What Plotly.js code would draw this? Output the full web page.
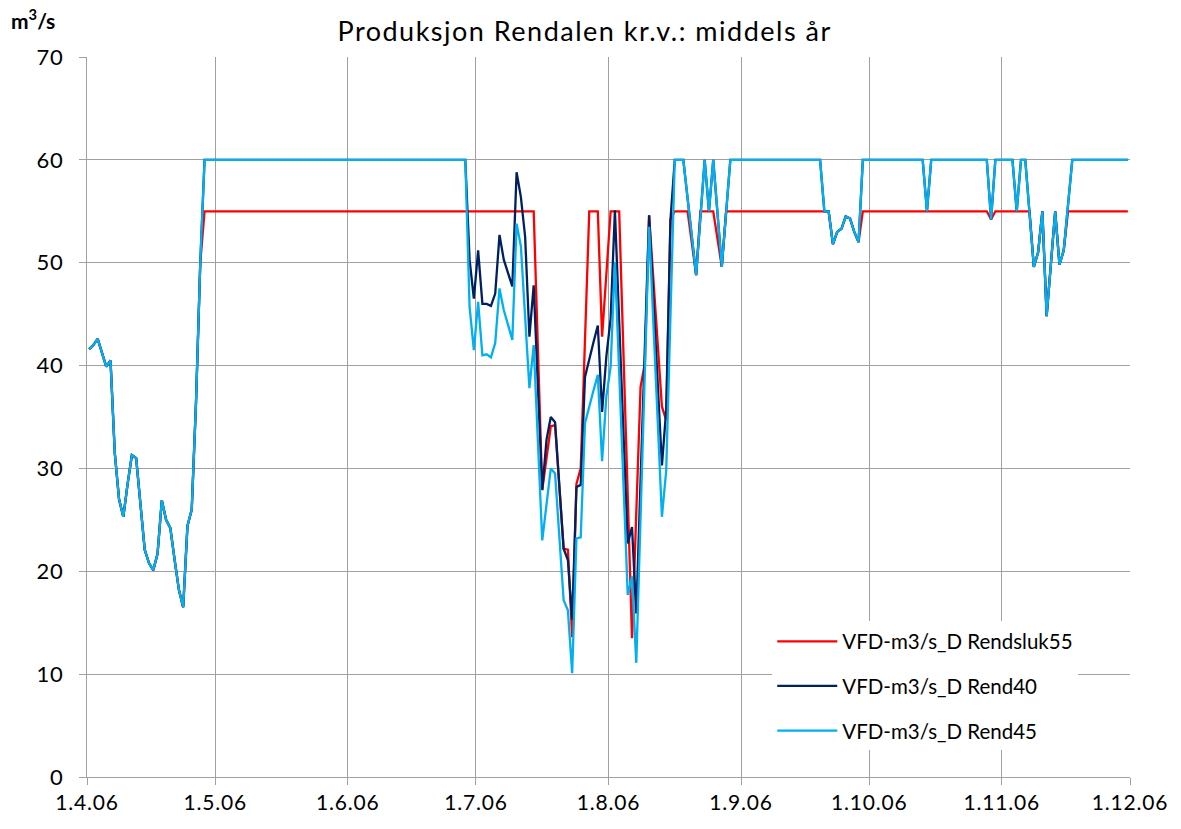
<!DOCTYPE html>
<html>
<head>
<meta charset="utf-8">
<script src="https://cdn.plot.ly/plotly-3.0.1.min.js"></script>
<style>
  body { margin: 0; background: #fff; }
  #chart { width: 1181px; height: 829px; }
  #chart .gtitle { letter-spacing: 1.5px; }
  #chart .xtick text, #chart .ytick text { letter-spacing: 0.8px; }
</style>
</head>
<body>
<div id="chart"></div>
<script>
// Vannføring april (lik for alle tre serier)
var aprDates = ['2006-04-01', '2006-04-02', '2006-04-03', '2006-04-04', '2006-04-05', '2006-04-06', '2006-04-07',
  '2006-04-08', '2006-04-09', '2006-04-10', '2006-04-11', '2006-04-12', '2006-04-13', '2006-04-14', '2006-04-15',
  '2006-04-16', '2006-04-17', '2006-04-18', '2006-04-19', '2006-04-20', '2006-04-21', '2006-04-22', '2006-04-23',
  '2006-04-24', '2006-04-25', '2006-04-26', '2006-04-27']
var aprFlow = [41.6, 42.0, 42.6, 41.2, 39.9, 40.5, 31.5, 27.0, 25.3, 28.5, 31.3, 31.0, 26.9, 22.1, 20.8,
  20.1, 21.7, 26.9, 25.0, 24.2, 21.1, 18.2, 16.5, 24.4, 26.0, 36.4, 50.0]

// Rendsluk55
var rend55Dates = ['2006-04-28', '2006-07-14', '2006-07-16', '2006-07-18', '2006-07-19', '2006-07-21', '2006-07-22',
  '2006-07-23', '2006-07-24', '2006-07-25', '2006-07-27', '2006-07-29', '2006-07-30', '2006-08-01', '2006-08-03',
  '2006-08-06', '2006-08-08', '2006-08-09', '2006-08-10', '2006-08-13', '2006-08-14', '2006-08-15', '2006-08-16',
  '2006-08-19', '2006-08-21', '2006-08-22', '2006-08-25', '2006-08-27', '2006-08-28', '2006-09-21', '2006-09-22',
  '2006-09-23', '2006-09-24', '2006-09-25', '2006-09-26', '2006-09-27', '2006-09-28', '2006-09-29', '2006-10-28',
  '2006-10-29', '2006-10-30', '2006-11-07', '2006-11-08', '2006-11-09', '2006-11-10', '2006-11-11', '2006-11-13',
  '2006-11-14', '2006-11-15', '2006-11-16', '2006-11-30']
var rend55Vals = [55, 55, 27.9, 34.1, 34.2, 22.2, 22.1,
  13.6, 28.5, 30.0, 55, 55, 42.8, 55, 55,
  13.5, 37.9, 40.2, 54.6, 36.0, 34.7, 54.2, 55,
  55, 48.8, 55, 55, 49.6, 55, 55, 51.8,
  53.0, 53.3, 54.5, 54.3, 53.0, 52.0, 55, 55,
  54.2, 55, 55, 49.6, 51, 55, 44.8, 55,
  49.8, 51.2, 55, 55]

// Rend40 (sommer)
var rend40Dates = ['2006-04-28', '2006-06-28', '2006-06-29', '2006-06-30', '2006-07-01', '2006-07-02', '2006-07-03',
  '2006-07-04', '2006-07-05', '2006-07-06', '2006-07-07', '2006-07-09', '2006-07-10', '2006-07-11', '2006-07-12',
  '2006-07-13', '2006-07-14', '2006-07-16', '2006-07-17', '2006-07-18', '2006-07-19', '2006-07-21', '2006-07-22',
  '2006-07-23', '2006-07-24', '2006-07-25', '2006-07-26', '2006-07-28', '2006-07-29', '2006-07-30', '2006-07-31',
  '2006-08-01', '2006-08-02', '2006-08-05', '2006-08-06', '2006-08-07', '2006-08-10', '2006-08-13', '2006-08-14',
  '2006-08-15']
var rend40Vals = [60, 60, 50.3, 46.5, 51.2, 46.0, 46.0,
  45.8, 47.0, 52.7, 50.3, 47.7, 58.8, 56.4, 52.5,
  42.8, 47.8, 27.9, 32.8, 35.0, 34.5, 22.2, 21.1,
  15.3, 28.2, 28.4, 38.9, 42.3, 43.9, 35.5, 40.9,
  44.6, 55.1, 22.7, 24.3, 15.9, 54.6, 30.3, 35.7,
  54.2]

// Rend45 (sommer)
var rend45Dates = ['2006-04-28', '2006-06-28', '2006-06-29', '2006-06-30', '2006-07-01', '2006-07-02', '2006-07-03',
  '2006-07-04', '2006-07-05', '2006-07-06', '2006-07-07', '2006-07-09', '2006-07-10', '2006-07-11', '2006-07-13',
  '2006-07-14', '2006-07-16', '2006-07-18', '2006-07-19', '2006-07-21', '2006-07-22', '2006-07-23', '2006-07-24',
  '2006-07-25', '2006-07-26', '2006-07-28', '2006-07-29', '2006-07-30', '2006-07-31', '2006-08-01', '2006-08-02',
  '2006-08-05', '2006-08-06', '2006-08-07', '2006-08-10', '2006-08-13', '2006-08-14']
var rend45Vals = [60, 60, 45.7, 41.5, 46.2, 41.0, 41.1,
  40.8, 42.2, 47.5, 45.4, 42.5, 53.8, 51.6, 37.8,
  42, 23.0, 30.0, 29.5, 17.2, 16.2, 10.1, 23.2,
  23.3, 34.4, 37.6, 39.1, 30.7, 37.0, 39.9, 50.1,
  17.7, 19.5, 11.1, 53.5, 25.3, 29.8]

// Høst (lik for Rend40 og Rend45)
var lateDates = ['2006-08-16', '2006-08-18', '2006-08-21', '2006-08-23', '2006-08-24', '2006-08-25', '2006-08-27',
  '2006-08-29', '2006-09-19', '2006-09-20', '2006-09-21', '2006-09-22', '2006-09-23', '2006-09-24', '2006-09-25',
  '2006-09-26', '2006-09-27', '2006-09-28', '2006-09-29', '2006-10-13', '2006-10-14', '2006-10-15', '2006-10-28',
  '2006-10-29', '2006-10-30', '2006-11-03', '2006-11-04', '2006-11-05', '2006-11-06', '2006-11-08', '2006-11-09',
  '2006-11-10', '2006-11-11', '2006-11-13', '2006-11-14', '2006-11-15', '2006-11-17', '2006-11-30']
var lateFlow = [60, 60, 48.8, 60, 55, 60, 49.6,
  60, 60, 55, 55, 51.8, 53.0, 53.3, 54.5,
  54.3, 53.0, 52.0, 60, 60, 55, 60, 60,
  54.2, 60, 60, 55, 60, 60, 49.6, 51,
  55, 44.8, 55, 49.8, 51.2, 60, 60]

var seriesNames = ['VFD-m3/s_D Rendsluk55', 'VFD-m3/s_D Rend40', 'VFD-m3/s_D Rend45']
var seriesColors = ['#ff0000', '#002060', '#00b0f0']

// punktene ligger midt i døgnet
function noon(dates) {
  return dates.map(function (d) { return d + ' 12:00' })
}

var xs = [
  noon(aprDates.concat(rend55Dates)),
  noon(aprDates.concat(rend40Dates, lateDates)),
  noon(aprDates.concat(rend45Dates, lateDates))
]
var ys = [
  aprFlow.concat(rend55Vals),
  aprFlow.concat(rend40Vals, lateFlow),
  aprFlow.concat(rend45Vals, lateFlow)
]

var data = []
for (var i = 0; i < 3; i++) {
  data.push({
    x: xs[i],
    y: ys[i],
    name: seriesNames[i],
    legendgroup: 'g' + i,
    type: 'scatter',
    mode: 'lines',
    line: { color: seriesColors[i], width: 2.3 },
    hoverinfo: 'x+y'
  })
}

var fontFamily = 'Lato, "Liberation Sans", sans-serif'

var layout = {
  width: 1181,
  height: 829,
  margin: { l: 87, r: 51, t: 57, b: 52 },
  paper_bgcolor: '#fff',
  plot_bgcolor: '#fff',
  font: { family: fontFamily, color: '#000', size: 20 },
  title: {
    text: 'Produksjon Rendalen kr.v.: middels år',
    font: { size: 27, color: '#000' },
    x: 0.495,
    y: 0.962,
    yanchor: 'middle'
  },
  xaxis: {
    type: 'date',
    range: ['2006-04-01', '2006-12-01'],
    dtick: 'M1',
    tick0: '2006-04-01',
    tickformat: '%-d.%-m.%y',
    showgrid: true,
    gridcolor: '#a0a0a0',
    gridwidth: 1,
    showline: true,
    linecolor: '#a0a0a0',
    linewidth: 1,
    ticks: 'outside',
    ticklen: 7,
    tickcolor: '#a0a0a0',
    zeroline: false,
    fixedrange: true,
    tickfont: { size: 21 }
  },
  yaxis: {
    range: [0, 70],
    dtick: 10,
    showgrid: true,
    gridcolor: '#a0a0a0',
    gridwidth: 1,
    showline: true,
    linecolor: '#a0a0a0',
    linewidth: 1,
    zeroline: false,
    ticks: 'outside',
    ticklen: 7,
    tickcolor: '#a0a0a0',
    ticklabelstandoff: 11,
    fixedrange: true,
    tickfont: { size: 22 }
  },
  showlegend: true,
  legend: {
    x: 0.657,
    y: 0.216,
    xanchor: 'left',
    yanchor: 'top',
    bgcolor: '#fff',
    borderwidth: 0,
    traceorder: 'grouped',
    tracegroupgap: 15,
    itemwidth: 60,
    font: { size: 20.5, color: '#000' }
  },
  annotations: [{
    text: '<b>m<sup>3</sup>/s</b>',
    xref: 'paper',
    yref: 'paper',
    x: -0.075,
    y: 1.03,
    xanchor: 'left',
    yanchor: 'bottom',
    showarrow: false,
    font: { size: 21, color: '#000' }
  }]
}

Plotly.newPlot('chart', data, layout, { displayModeBar: false, responsive: false })
</script>
</body>
</html>
